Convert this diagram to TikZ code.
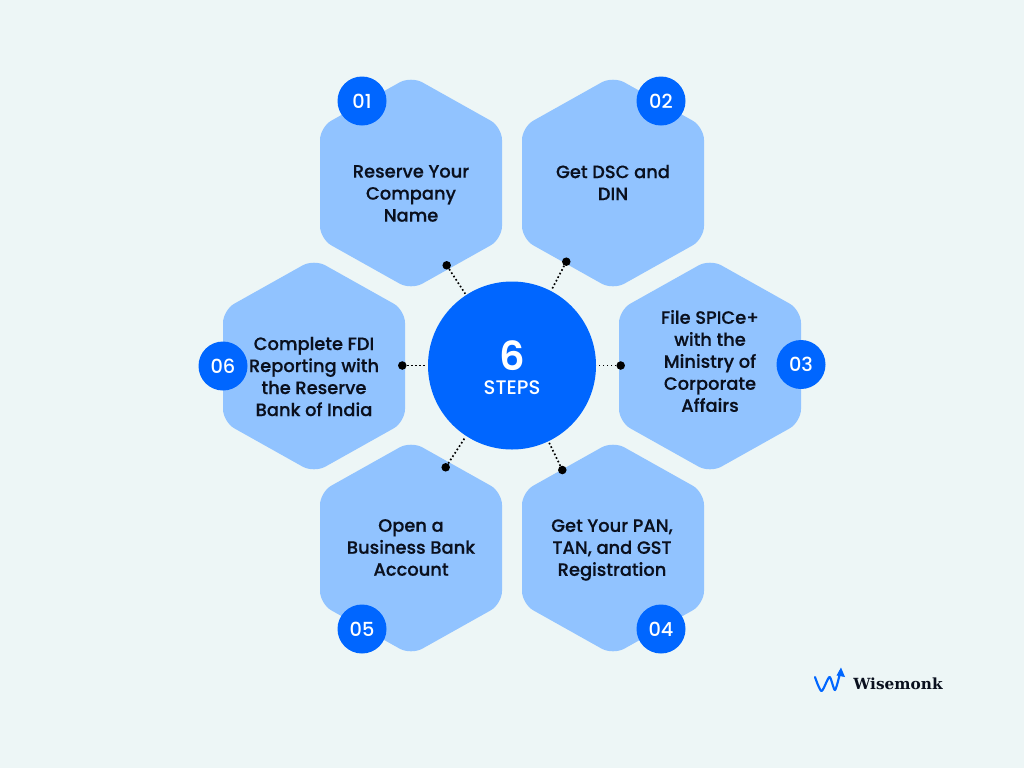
\documentclass[tikz,border=0pt]{standalone}
\usepackage{fontspec}
\setmainfont{Poppins Medium}
\newfontfamily\labelfont{Poppins Medium}[FakeBold=0.35]
\newfontfamily\numfont{Poppins SemiBold}
\newfontfamily\logofont{DejaVu Serif}[Scale=1]
\definecolor{bgc}{RGB}{237,246,246}
\definecolor{hexc}{RGB}{145,195,255}
\definecolor{hubc}{RGB}{0,102,255}
\definecolor{inkc}{RGB}{10,16,30}
\tikzset{
  hexshape/.style={fill=hexc,rounded corners=9.75pt},
  hexlabel/.style={text=inkc,align=center,font=\labelfont\fontsize{13.4pt}{16.5pt}\selectfont,inner sep=0pt},
  badge/.style={circle,fill=hubc,text=white,minimum size=36.75pt,inner sep=0pt,font=\fontsize{14.5pt}{16pt}\selectfont},
  hubnode/.style={circle,fill=hubc,minimum size=126pt,inner sep=0pt},
  dotnode/.style={circle,fill=black,minimum size=6.4pt,inner sep=0pt},
  linker/.style={line width=1.25pt,black,dash pattern=on 1.25pt off 1.75pt,shorten >=1pt,shorten <=0pt},
}
\newcommand{\hexat}[2]{\path[hexshape] (#1,#2-107) -- (#1+91,#2-56) -- (#1+91,#2+56) -- (#1,#2+107) -- (#1-91,#2+56) -- (#1-91,#2-56) -- cycle;}
\begin{document}
\begin{tikzpicture}[x=0.75pt,y=-0.75pt]
\useasboundingbox (0,0) rectangle (1024,768);
\fill[bgc] (0,0) rectangle (1024,768);
\hexat{411}{183}
\hexat{613}{183}
\hexat{710}{366}
\hexat{613}{548}
\hexat{411}{548}
\hexat{314}{366}
\node[hubnode] (hub) at (512,365.5) {};
\node[dotnode] (d1) at (446.7,265.3) {};
\node[dotnode] (d2) at (566.3,261.7) {};
\node[dotnode] (d3) at (620.7,365.5) {};
\node[dotnode] (d4) at (562.3,470) {};
\node[dotnode] (d5) at (445.7,467.3) {};
\node[dotnode] (d6) at (402.3,365.5) {};
\foreach \d in {d1,d2,d3,d4,d5,d6} \draw[linker] (\d) -- (hub);
\node[text=white,inner sep=0pt,font=\numfont\fontsize{30pt}{32pt}\selectfont] (six) at (512,356) {6};
\node[text=white,inner sep=0pt,font=\fontsize{14.7pt}{16pt}\selectfont] (steps) at (512,387.5) {STEPS};
\node[hexlabel] (t1) at (411,193.5) {Reserve Your\\Company\\Name};
\node[hexlabel] (t2) at (613,182.5) {Get DSC and\\DIN};
\node[hexlabel] (t3) at (710,361) {File SPICe+\\with the\\Ministry of\\Corporate\\Affairs};
\node[hexlabel] (t4) at (612,550) {Get Your PAN,\\TAN, and GST\\Registration};
\node[hexlabel] (t5) at (411,547.5) {Open a\\Business Bank\\Account};
\node[hexlabel] (t6) at (314,376.5) {Complete FDI\\Reporting with\\the Reserve\\Bank of India};
\node[badge] (b1) at (362,101) {01};
\node[badge] (b2) at (661,101) {02};
\node[badge] (b3) at (801,364.5) {03};
\node[badge] (b4) at (661,629) {04};
\node[badge] (b5) at (362,629) {05};
\node[badge] (b6) at (223,366) {06};
\draw[hubc,line width=1.6pt,line cap=round,line join=round] plot[smooth,tension=0.45] coordinates {(815,677) (821.5,691) (829.5,677) (835,690) (840.5,671)};
\fill[hubc] (841,667.5) -- (845,677) -- (836.5,675.5) -- cycle;
\node[text=inkc,inner sep=0pt,anchor=west,font=\logofont\bfseries\fontsize{11.5pt}{14pt}\selectfont] (brand) at (853,683.5) {Wisemonk};
\end{tikzpicture}
\end{document}
